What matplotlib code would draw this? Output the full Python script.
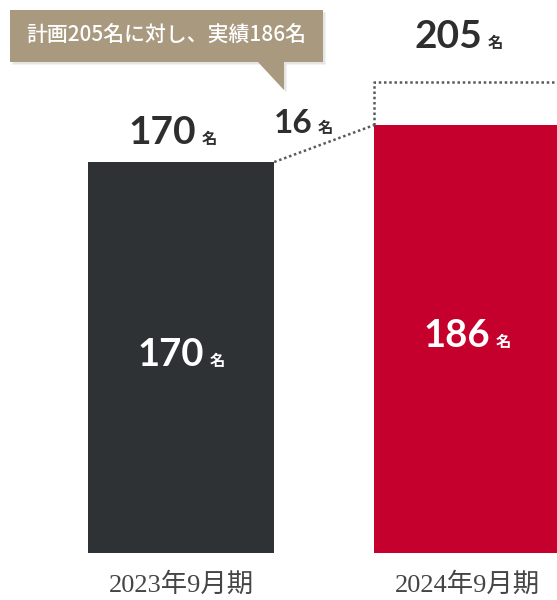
import matplotlib
matplotlib.use("Agg")
import matplotlib.pyplot as plt
from matplotlib.patches import Polygon
from matplotlib.offsetbox import TextArea, HPacker, AnnotationBbox

# ---- data ----
categories = ["2023年9月期", "2024年9月期"]
actual = [170, 186]
plan_2024 = 205
unit = "名"
callout_text = "計画205名に対し、実績186名"

bar_colors = ["#2f3234", "#c6002d"]
text_dark = "#2e2e2e"
callout_color = "#a8997f"

W, H = 557, 600
fig = plt.figure(figsize=(W / 100, H / 100), dpi=100)
fig.patch.set_facecolor("white")

base_px = 553
ax = fig.add_axes([0, (H - base_px) / H, 1, base_px / H])
px_per_unit = 2.30
ax.set_ylim(0, base_px / px_per_unit)
ax.set_xlim(-181 / 286, (W - 181) / 286)
for s in ax.spines.values():
    s.set_visible(False)
ax.set_yticks([])

x = list(range(len(categories)))
bw = 0.652
ax.bar(x, actual, width=bw, color=bar_colors, zorder=2)

ax.set_xticks(x)
ax.set_xticklabels(categories, family=["Liberation Serif", "Noto Sans CJK JP"],
                   fontsize=19, color="#454545")
ax.tick_params(axis="x", length=0, pad=14)

dot = dict(color="#5a5a5a", lw=1.8, linestyle=(0, (1, 1.1)), zorder=3,
           solid_capstyle="butt", dash_capstyle="butt")
# connecting line between the bar tops
ax.plot([x[0] + bw / 2, x[1] - bw / 2], [actual[0], actual[1]], **dot)
# planned outline
xl, xr = x[1] - bw / 2, x[1] + bw / 2
ax.plot([xl, xl, xr], [actual[1], plan_2024, plan_2024], clip_on=False, **dot)


def label(xv, yv, num, size, color, align, offset):
    t1 = TextArea(num, textprops=dict(family="Lato", weight="bold",
                                      fontsize=size, color=color))
    t2 = TextArea(unit, textprops=dict(family="Noto Sans CJK JP", weight="bold",
                                       fontsize=11, color=color))
    pack = HPacker(children=[t1, t2], align="baseline", pad=0, sep=4)
    ab = AnnotationBbox(pack, (xv, yv), xybox=offset, xycoords="data",
                        boxcoords="offset points", box_alignment=align,
                        frameon=False, annotation_clip=False)
    ax.add_artist(ab)


# labels above
label(x[0], actual[0], str(actual[0]), 28, text_dark, (0.5, 0), (-6, 9))
label(x[1], plan_2024, str(plan_2024), 28, text_dark, (0.5, 0), (-6, 19.5))
diff = actual[1] - actual[0]
label(0.5, (actual[0] + actual[1]) / 2, str(diff), 24, text_dark, (0.5, 0), (-15, 4))
# labels inside bars
for xi, v in zip(x, actual):
    label(xi, v / 2, str(v), 27.5, "white", (0.5, 0.5), (0, 2))

# callout box (figure pixel coords)
def P(px, py):
    return (px / W, 1 - py / H)

pts = [(10, 10), (323, 10), (323, 62), (284, 62), (284, 90), (258, 62), (10, 62)]
shadow = Polygon([P(a + 2.5, b + 2.5) for a, b in pts], closed=True,
                 transform=fig.transFigure, facecolor="#000000", alpha=0.10,
                 edgecolor="none", zorder=5)
box = Polygon([P(a, b) for a, b in pts], closed=True, transform=fig.transFigure,
              facecolor=callout_color, edgecolor="none", zorder=6)
fig.add_artist(shadow)
fig.add_artist(box)
fig.text(*P(166, 36), callout_text, family=["Noto Sans CJK JP", "DejaVu Sans"],
         fontsize=15, weight="medium", color="white", ha="center", va="center",
         zorder=7)

fig.savefig("out.png", dpi=100)
